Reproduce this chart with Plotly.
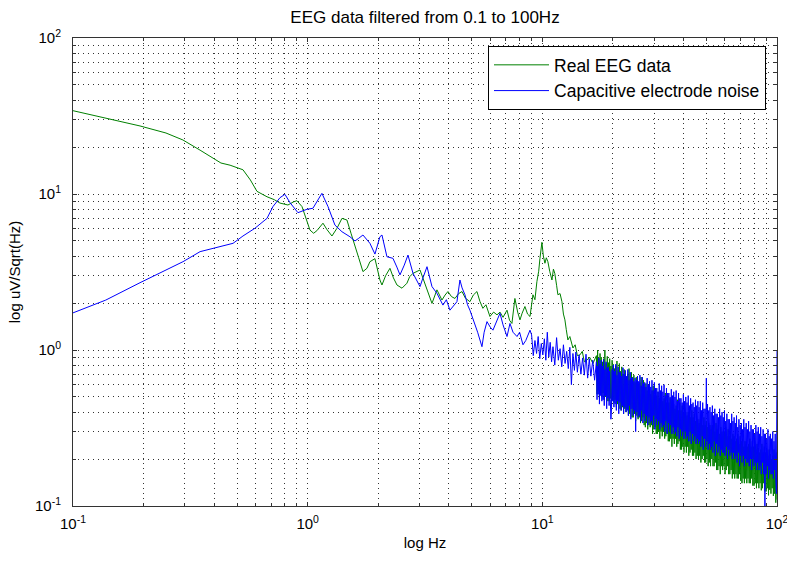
import numpy as np
import plotly.graph_objects as go

# ---------------- data ----------------
TITLE = "EEG data filtered from 0.1 to 100Hz"
X_LABEL = "log Hz"
Y_LABEL = "log uV/Sqrt(Hz)"
SERIES_NAMES = ["Real EEG data", "Capacitive electrode noise"]
DECADES = [-1, 0, 1, 2]

# Real EEG data, 0.1 .. 16.5 Hz
GREEN_LOW_F = [0.1, 0.138, 0.193, 0.249, 0.294, 0.348, 0.395, 0.427, 0.467, 0.53, 0.57, 0.608,
               0.671, 0.72, 0.762, 0.824, 0.87, 0.90, 0.946, 0.98, 1.023, 1.06, 1.095, 1.162,
               1.21, 1.269, 1.333, 1.40, 1.47, 1.53, 1.591, 1.65, 1.72, 1.789, 1.842, 1.935,
               2.032, 2.073, 2.15, 2.242, 2.32, 2.402, 2.523, 2.649, 2.72, 2.811, 3.011, 3.1,
               3.225, 3.386, 3.555, 3.734, 3.85, 3.961, 4.1, 4.242, 4.4, 4.545, 4.7, 4.914,
               5.08, 5.264, 5.42, 5.58, 5.75, 5.98, 6.2, 6.41, 6.60, 6.8, 7.07, 7.25, 7.42,
               7.64, 7.85, 8.03, 8.2, 8.43, 8.65, 8.86, 9.12, 9.3, 9.48, 9.65, 9.77, 9.96,
               10.1, 10.26, 10.4, 10.56, 10.75, 10.99, 11.15, 11.3, 11.5, 11.65, 11.9, 12.12,
               12.3, 12.48, 12.65, 12.85, 13.1, 13.5, 13.8, 14.1, 14.46, 14.8, 15.1, 15.49,
               15.9, 16.43]
GREEN_LOW_V = [34.2, 30.7, 27.3, 24.6, 22.2, 19.1, 17.0, 15.8, 15.3, 14.3, 12.3, 10.4,
               9.6, 9.2, 8.75, 8.5, 8.9, 9.06, 8.3, 7.0, 5.87, 5.6, 5.82, 6.5,
               5.9, 5.38, 6.03, 6.98, 6.81, 5.6, 4.71, 3.9, 3.18, 3.34, 3.68, 3.85,
               2.81, 2.61, 3.0, 3.34, 2.9, 2.61, 2.49, 2.68, 2.95, 3.10, 3.26, 2.9,
               2.43, 1.99, 2.43, 2.09, 2.25, 2.37, 2.2, 2.14, 2.3, 2.37, 2.15, 2.04,
               2.25, 2.37, 2.05, 1.85, 1.95, 1.64, 1.75, 1.68, 1.75, 1.62, 1.80, 1.55, 1.48,
               2.14, 1.75, 1.56, 1.72, 1.90, 1.70, 1.64, 2.26, 2.1, 2.74, 3.2, 3.87, 4.9,
               4.0, 3.60, 3.9, 3.68, 3.2, 2.81, 3.3, 3.10, 2.6, 2.26, 2.3, 2.04,
               1.7, 1.56, 1.35, 1.16, 1.22, 1.03, 1.08, 0.92, 0.93, 0.98, 0.84, 0.86,
               0.90, 0.82]

# Capacitive electrode noise, 0.1 .. 16.7 Hz
BLUE_LOW_F = [0.1, 0.138, 0.193, 0.249, 0.294, 0.348, 0.395, 0.481, 0.53, 0.596, 0.671, 0.711,
              0.762, 0.80, 0.841, 0.909, 0.993, 1.053, 1.15, 1.221, 1.307, 1.40, 1.514, 1.591,
              1.65, 1.72, 1.842, 1.935, 2.032, 2.073, 2.177, 2.309, 2.40, 2.474, 2.58, 2.676,
              2.811, 3.011, 3.1, 3.225, 3.386, 3.555, 3.771, 3.9, 4.039, 4.326, 4.455, 4.55,
              4.68, 4.8, 4.914, 5.162, 5.3, 5.53, 5.65, 5.81, 6.0, 6.16, 6.40, 6.60, 6.8,
              6.93, 7.07, 7.28, 7.5, 7.80, 8.0, 8.27, 8.5, 8.86,
              9.0, 9.15, 9.3, 9.45, 9.6, 9.75, 9.9, 10.05, 10.2, 10.35, 10.5, 10.65, 10.8,
              10.95, 11.1, 11.3, 11.5, 11.7, 11.9, 12.1, 12.3, 12.5, 12.7, 12.9, 13.1, 13.3,
              13.5, 13.7, 13.9, 14.1, 14.35, 14.6, 14.85, 15.1, 15.35, 15.6, 15.85, 16.1,
              16.4, 16.7]
BLUE_LOW_V = [1.73, 2.09, 2.70, 3.26, 3.68, 4.27, 4.49, 4.83, 5.38, 6.03, 6.98, 8.3,
              9.47, 9.95, 8.8, 7.59, 7.98, 8.1, 10.1, 8.3, 6.32, 5.73, 5.32, 5.0,
              5.2, 5.46, 4.83, 4.12, 5.32, 5.46, 3.96, 3.87, 3.4, 3.03, 3.5, 4.06,
              3.10, 2.55, 2.9, 3.42, 2.55, 2.31, 1.94, 2.1, 1.80, 2.04, 2.81, 2.5,
              2.26, 1.95, 1.80, 1.48, 1.3, 1.05, 1.3, 1.52, 1.4, 1.34, 1.55, 1.72, 1.45,
              1.34, 1.22, 1.48, 1.3, 1.22, 1.3, 1.08, 1.15, 1.34,
              1.25, 0.92, 1.15, 0.95, 1.22, 0.88, 1.10, 0.93, 1.18, 0.86, 1.30, 0.90, 1.12,
              0.84, 1.05, 0.80, 1.20, 0.86, 1.02, 0.78, 1.08, 0.82, 0.98, 0.76, 1.04, 0.60,
              0.95, 0.74, 0.97, 0.72, 0.93, 0.70, 0.89, 0.69, 0.94, 0.66, 0.88, 0.68,
              0.86, 0.64]

# Dense high-frequency part: spectrum sampled on a fixed 300-bin grid, 17 .. 100 Hz
HF_F = np.geomspace(17, 100, 300)
GREEN_HF_V = [
    0.92, 0.52, 1.00, 0.55, 0.88, 0.49, 0.95, 0.53, 0.90, 0.50,
    0.84, 0.53, 0.88, 0.48, 1.00, 0.50, 0.82, 0.52, 0.91, 0.47,
    0.83, 0.47, 0.88, 0.49, 0.79, 0.44, 0.86, 0.48, 0.81, 0.46,
    0.76, 0.48, 0.79, 0.43, 0.85, 0.45, 0.74, 0.47, 0.82, 0.42,
    0.73, 0.41, 0.78, 0.43, 0.70, 0.39, 0.75, 0.42, 0.71, 0.40,
    0.67, 0.42, 0.70, 0.38, 0.76, 0.39, 0.65, 0.42, 0.72, 0.37,
    0.65, 0.37, 0.69, 0.39, 0.62, 0.35, 0.67, 0.38, 0.64, 0.36,
    0.60, 0.37, 0.62, 0.34, 0.67, 0.35, 0.58, 0.37, 0.64, 0.33,
    0.58, 0.32, 0.61, 0.34, 0.55, 0.31, 0.59, 0.33, 0.56, 0.32,
    0.52, 0.33, 0.55, 0.29, 0.59, 0.31, 0.51, 0.32, 0.56, 0.29,
    0.51, 0.29, 0.54, 0.30, 0.49, 0.27, 0.53, 0.30, 0.50, 0.28,
    0.47, 0.30, 0.49, 0.27, 0.53, 0.28, 0.46, 0.29, 0.51, 0.26,
    0.46, 0.26, 0.49, 0.27, 0.44, 0.24, 0.48, 0.27, 0.45, 0.25,
    0.42, 0.27, 0.44, 0.24, 0.48, 0.25, 0.41, 0.26, 0.46, 0.23,
    0.41, 0.23, 0.44, 0.24, 0.39, 0.22, 0.42, 0.24, 0.40, 0.22,
    0.38, 0.24, 0.40, 0.21, 0.43, 0.22, 0.37, 0.23, 0.41, 0.21,
    0.37, 0.21, 0.39, 0.22, 0.35, 0.20, 0.38, 0.21, 0.36, 0.20,
    0.34, 0.21, 0.36, 0.19, 0.39, 0.20, 0.33, 0.21, 0.37, 0.19,
    0.33, 0.19, 0.35, 0.20, 0.32, 0.18, 0.34, 0.19, 0.33, 0.18,
    0.31, 0.20, 0.33, 0.18, 0.35, 0.18, 0.30, 0.19, 0.34, 0.17,
    0.31, 0.17, 0.33, 0.18, 0.29, 0.16, 0.32, 0.18, 0.30, 0.17,
    0.29, 0.18, 0.30, 0.16, 0.32, 0.17, 0.28, 0.18, 0.31, 0.16,
    0.28, 0.16, 0.30, 0.17, 0.27, 0.15, 0.29, 0.16, 0.28, 0.15,
    0.26, 0.16, 0.27, 0.15, 0.29, 0.15, 0.25, 0.16, 0.28, 0.145,
    0.26, 0.14, 0.27, 0.15, 0.24, 0.14, 0.26, 0.15, 0.25, 0.14,
    0.24, 0.15, 0.25, 0.14, 0.27, 0.14, 0.24, 0.15, 0.26, 0.135,
    0.24, 0.135, 0.26, 0.14, 0.23, 0.13, 0.25, 0.14, 0.235, 0.13,
    0.22, 0.14, 0.23, 0.126, 0.25, 0.13, 0.22, 0.14, 0.24, 0.124,
    0.22, 0.124, 0.23, 0.13, 0.21, 0.117, 0.23, 0.127, 0.215, 0.12,
    0.20, 0.13, 0.21, 0.116, 0.23, 0.12, 0.20, 0.105, 0.22, 0.11]
BLUE_HF_V = [
    0.84, 0.48, 0.79, 0.52, 0.89, 0.45, 0.81, 0.51, 0.86, 0.47,
    0.79, 0.48, 0.87, 0.44, 0.75, 0.51, 0.84, 0.42, 0.77, 0.49,
    0.78, 0.44, 0.73, 0.48, 0.36, 0.42, 0.75, 0.47, 0.80, 0.43,
    0.73, 0.45, 0.81, 0.41, 0.69, 0.47, 0.78, 0.39, 0.72, 0.46,
    0.72, 0.41, 0.68, 0.44, 0.77, 0.39, 0.70, 0.43, 0.74, 0.40,
    0.68, 0.41, 0.75, 0.38, 0.64, 0.44, 0.72, 0.36, 0.66, 0.42,
    0.67, 0.38, 0.63, 0.41, 0.66, 0.30, 0.64, 0.40, 0.68, 0.37,
    0.63, 0.38, 0.69, 0.35, 0.59, 0.41, 0.67, 0.34, 0.61, 0.39,
    0.62, 0.35, 0.58, 0.38, 0.66, 0.33, 0.60, 0.37, 0.63, 0.34,
    0.58, 0.35, 0.64, 0.33, 0.55, 0.38, 0.62, 0.31, 0.57, 0.36,
    0.57, 0.33, 0.54, 0.35, 0.61, 0.31, 0.55, 0.34, 0.59, 0.32,
    0.54, 0.33, 0.60, 0.30, 0.51, 0.35, 0.57, 0.29, 0.53, 0.34,
    0.53, 0.30, 0.50, 0.33, 0.56, 0.29, 0.51, 0.32, 0.54, 0.29,
    0.50, 0.30, 0.55, 0.28, 0.47, 0.32, 0.53, 0.27, 0.49, 0.31,
    0.49, 0.28, 0.46, 0.30, 0.52, 0.27, 0.47, 0.30, 0.50, 0.27,
    0.46, 0.28, 0.51, 0.26, 0.44, 0.30, 0.49, 0.25, 0.45, 0.29,
    0.46, 0.26, 0.43, 0.28, 0.48, 0.25, 0.44, 0.27, 0.47, 0.25,
    0.43, 0.26, 0.47, 0.24, 0.41, 0.28, 0.46, 0.23, 0.42, 0.27,
    0.42, 0.24, 0.66, 0.26, 0.45, 0.23, 0.41, 0.25, 0.43, 0.23,
    0.40, 0.24, 0.44, 0.22, 0.38, 0.26, 0.42, 0.21, 0.39, 0.25,
    0.39, 0.22, 0.37, 0.24, 0.42, 0.21, 0.38, 0.23, 0.40, 0.22,
    0.37, 0.22, 0.41, 0.21, 0.35, 0.24, 0.39, 0.20, 0.36, 0.23,
    0.36, 0.21, 0.34, 0.22, 0.39, 0.20, 0.35, 0.22, 0.37, 0.20,
    0.34, 0.21, 0.38, 0.19, 0.32, 0.22, 0.36, 0.18, 0.33, 0.21,
    0.34, 0.19, 0.31, 0.21, 0.36, 0.18, 0.32, 0.20, 0.34, 0.19,
    0.31, 0.19, 0.35, 0.18, 0.30, 0.20, 0.33, 0.17, 0.31, 0.20,
    0.31, 0.18, 0.29, 0.19, 0.33, 0.17, 0.30, 0.19, 0.32, 0.17,
    0.29, 0.18, 0.32, 0.16, 0.28, 0.19, 0.31, 0.16, 0.29, 0.10,
    0.29, 0.16, 0.27, 0.18, 0.31, 0.15, 0.28, 0.17, 0.29, 0.16,
    0.27, 0.16, 0.30, 0.15, 0.26, 0.17, 0.29, 0.15, 0.12, 1.00]

# ---------------- figure ----------------
green_f = list(GREEN_LOW_F) + list(HF_F)
green_v = list(GREEN_LOW_V) + list(GREEN_HF_V)
blue_f = list(BLUE_LOW_F) + list(HF_F)
blue_v = list(BLUE_LOW_V) + list(BLUE_HF_V)

major_vals = [10.0 ** d for d in DECADES]
major_text = [f"10<sup>{d}</sup>" for d in DECADES]
minor_vals = [m * 10.0 ** d for d in DECADES[:-1] for m in range(2, 10)]

FONT = "Liberation Sans, Arial, Helvetica, sans-serif"
GRID_COLOR = "rgba(0,0,0,0.8)"
GRID_DASH = "1px,4px"

fig = go.Figure()
fig.add_trace(go.Scatter(x=green_f, y=green_v, mode="lines", name=SERIES_NAMES[0],
                         line=dict(color="#008000", width=1)))
fig.add_trace(go.Scatter(x=blue_f, y=blue_v, mode="lines", name=SERIES_NAMES[1],
                         line=dict(color="#0000FF", width=1)))

axis_common = dict(
    type="log", range=[-1, 2], tickmode="array", tickvals=major_vals, ticktext=major_text,
    ticks="inside", ticklen=4, tickcolor="#333", tickwidth=1,
    showline=True, linecolor="#333", linewidth=1, mirror="ticks",
    showgrid=True, gridcolor=GRID_COLOR, gridwidth=1, griddash=GRID_DASH,
    minor=dict(tickmode="array", tickvals=minor_vals, ticks="inside", ticklen=3,
               tickcolor="#333", showgrid=True, gridcolor=GRID_COLOR, gridwidth=1,
               griddash=GRID_DASH),
    zeroline=False, ticklabeloverflow="allow", automargin=False,
    tickfont=dict(family=FONT, size=15, color="black"),
)
fig.update_xaxes(**axis_common, ticklabelstandoff=4,
                 title=dict(text=X_LABEL, font=dict(family=FONT, size=15, color="black"), standoff=6))
fig.update_yaxes(**axis_common, ticklabelstandoff=8,
                 title=dict(text=Y_LABEL, font=dict(family=FONT, size=15, color="black"), standoff=10))

fig.update_layout(
    width=787, height=563,
    margin=dict(l=73, r=10, t=38, b=57, autoexpand=False),
    paper_bgcolor="white", plot_bgcolor="white",
    title=dict(text=TITLE, x=0.5, xref="paper", xanchor="center",
               y=1 - 17 / 563, yref="container", yanchor="middle",
               font=dict(family=FONT, size=17, color="black")),
    legend=dict(x=0.5895, y=0.983, xanchor="left", yanchor="top",
                bgcolor="white", bordercolor="black", borderwidth=1,
                font=dict(family=FONT, size=17.5, color="black"), itemwidth=55,
                tracegroupgap=0),
    showlegend=True,
)

fig.write_html("out.html")
